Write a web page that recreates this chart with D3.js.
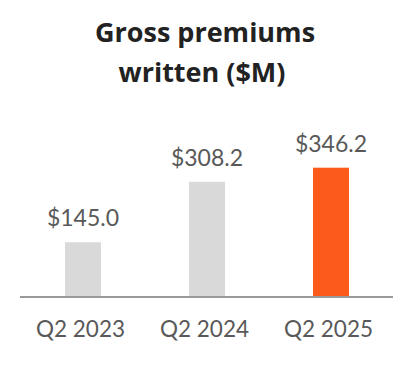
<!DOCTYPE html>
<html>
<head>
<meta charset="utf-8">
<script src="https://cdn.jsdelivr.net/npm/d3@7"></script>
<style>
  html, body { margin: 0; padding: 0; background: #ffffff; }
  svg { display: block; }
</style>
</head>
<body>
<svg id="chart" width="412" height="384"></svg>
<script>
const categories = ["Q2 2023", "Q2 2024", "Q2 2025"];
const values = [145.0, 308.2, 346.2];
const valueLabels = ["$145.0", "$308.2", "$346.2"];
const barColors = ["#d9d9d9", "#d9d9d9", "#fc5a1a"];
const titleLines = ["Gross premiums", "written ($M)"];

const svg = d3.select("#chart");
const baseY = 296;

const x = d3.scalePoint().domain(categories).range([21, 393]).padding(0.5);
const y = d3.scaleLinear().domain([0, 346.2]).range([baseY, 167.7]);
const barW = 36;

// title
svg.append("text")
  .attr("x", 205).attr("y", 42)
  .attr("text-anchor", "middle")
  .attr("font-family", "'Open Sans', sans-serif")
  .attr("font-weight", 700)
  .attr("font-size", 27)
  .attr("fill", "#222222")
  .selectAll("tspan").data(titleLines).join("tspan")
  .attr("x", (d, i) => i === 0 ? 205 : 202)
  .attr("dy", (d, i) => i === 0 ? 0 : 40)
  .text(d => d);

// bars
svg.selectAll("rect.bar").data(values).join("rect")
  .attr("class", "bar")
  .attr("x", (d, i) => x(categories[i]) - barW / 2)
  .attr("y", d => y(d))
  .attr("width", barW)
  .attr("height", d => baseY - y(d))
  .attr("fill", (d, i) => barColors[i]);

// value labels
svg.selectAll("text.val").data(values).join("text")
  .attr("class", "val")
  .attr("x", (d, i) => x(categories[i]))
  .attr("y", d => y(d) - 16)
  .attr("text-anchor", "middle")
  .attr("font-family", "Lato, sans-serif")
  .attr("font-size", 23)
  .attr("fill", "#595959")
  .text((d, i) => valueLabels[i]);

// axis
const axis = d3.axisBottom(x).tickSize(0).tickPadding(0);
const g = svg.append("g").attr("transform", `translate(0,${baseY + 1})`).call(axis);
g.select(".domain").remove();
g.append("line")
  .attr("x1", 20).attr("x2", 393)
  .attr("y1", 0).attr("y2", 0)
  .attr("stroke", "#9a9a9a").attr("stroke-width", 2);
g.selectAll(".tick text")
  .attr("dy", 0)
  .attr("y", 40)
  .attr("dx", -3)
  .attr("font-family", "Lato, sans-serif")
  .attr("font-size", 22.5)
  .attr("fill", "#595959");
</script>
</body>
</html>
